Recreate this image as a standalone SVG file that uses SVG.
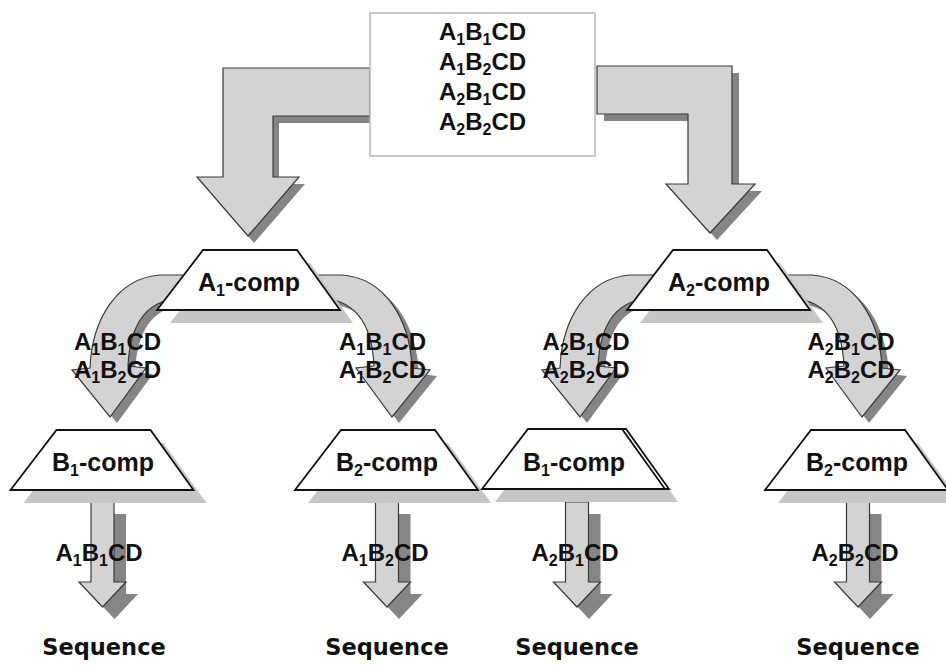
<svg xmlns="http://www.w3.org/2000/svg" width="946" height="665" viewBox="0 0 946 665">
<defs>
<style>
.arr{fill:#d3d3d3;stroke:#3a3a3a;stroke-width:1.2;stroke-linejoin:miter}
.ash{fill:#858585;stroke:none}
.tsh{fill:#c6c6c6;stroke:none}
.trap{fill:#fff;stroke:#111;stroke-width:1.8;stroke-linejoin:miter}
.box{fill:#fff;stroke:#b8b8b8;stroke-width:1.5}
.t{font-family:"Liberation Sans",Arial,sans-serif;font-weight:bold;font-size:24px;fill:#111;text-anchor:middle}
.n{font-family:"Liberation Sans",Arial,sans-serif;font-weight:bold;font-size:25px;fill:#111;text-anchor:middle}
.s{font-size:16px}
.seq{font-family:"DejaVu Sans",Verdana,sans-serif;font-weight:bold;font-size:22.5px;fill:#111;text-anchor:middle}
</style>
<path id="curveL" d="M 185,275 L 160,275 C 118,278 92,318 90,368 L 72,370 L 110,417 L 146,368 L 128,366 C 130,322 148,298 185,298 Z"/>
<path id="curveR" d="M 317,275 L 342,275 C 384,278 410,318 412,368 L 430,370 L 392,417 L 356,368 L 374,366 C 372,322 354,298 317,298 Z"/>
<path id="small" d="M -11.5,502 L 11.5,502 L 11.5,582 L 23.5,582 L 0,607 L -23.5,582 L -11.5,582 Z"/>
<polygon id="trapA" points="203,250 297,250 340,310 157,310"/>
</defs>
<rect width="946" height="665" fill="#fff"/>

<g id="connectors">
  <g id="edge-top-a1">
    <path class="ash" transform="translate(6,7)" d="M 370,68 L 223,68 L 223,177 L 197,177 L 248,236 L 299,177 L 273,177 L 273,116 L 370,116 Z"/>
    <path class="arr" d="M 370,68 L 223,68 L 223,177 L 197,177 L 248,236 L 299,177 L 273,177 L 273,116 L 370,116 Z"/>
  </g>
  <g id="edge-top-a2">
    <path class="ash" transform="translate(7,7)" d="M 597,66 L 732,66 L 732,184 L 755,184 L 710,233 L 666,184 L 688,184 L 688,114 L 597,114 Z"/>
    <path class="arr" d="M 597,66 L 732,66 L 732,184 L 755,184 L 710,233 L 666,184 L 688,184 L 688,114 L 597,114 Z"/>
  </g>
  <g id="edge-a1-b1">
    <use href="#curveL" class="ash" transform="translate(7,6)"/>
    <use href="#curveL" class="arr"/>
  </g>
  <g id="edge-a1-b2">
    <use href="#curveR" class="ash" transform="translate(7,6)"/>
    <use href="#curveR" class="arr"/>
  </g>
  <g id="edge-a2-b1">
    <use href="#curveL" class="ash" transform="translate(477,6)"/>
    <use href="#curveL" class="arr" transform="translate(470,0)"/>
  </g>
  <g id="edge-a2-b2">
    <use href="#curveR" class="ash" transform="translate(477,6)"/>
    <use href="#curveR" class="arr" transform="translate(470,0)"/>
  </g>
  <g id="edge-b1-seq1">
    <use href="#small" class="ash" transform="translate(114.5,12)"/>
    <use href="#small" class="arr" transform="translate(102.5,0)"/>
  </g>
  <g id="edge-b2-seq2">
    <use href="#small" class="ash" transform="translate(399,12)"/>
    <use href="#small" class="arr" transform="translate(387,0)"/>
  </g>
  <g id="edge-b3-seq3">
    <use href="#small" class="ash" transform="translate(589,12)"/>
    <use href="#small" class="arr" transform="translate(577,0)"/>
  </g>
  <g id="edge-b4-seq4">
    <use href="#small" class="ash" transform="translate(870,12)"/>
    <use href="#small" class="arr" transform="translate(858,0)"/>
  </g>
  <g id="edge-labels">
    <text class="t" x="117.5" y="350">A<tspan class="s" dy="5">1</tspan><tspan dy="-5">B</tspan><tspan class="s" dy="5">1</tspan><tspan dy="-5">CD</tspan></text>
    <text class="t" x="117.5" y="378">A<tspan class="s" dy="5">1</tspan><tspan dy="-5">B</tspan><tspan class="s" dy="5">2</tspan><tspan dy="-5">CD</tspan></text>
    <text class="t" x="382.5" y="350">A<tspan class="s" dy="5">1</tspan><tspan dy="-5">B</tspan><tspan class="s" dy="5">1</tspan><tspan dy="-5">CD</tspan></text>
    <text class="t" x="382.5" y="378">A<tspan class="s" dy="5">1</tspan><tspan dy="-5">B</tspan><tspan class="s" dy="5">2</tspan><tspan dy="-5">CD</tspan></text>
    <text class="t" x="586" y="350">A<tspan class="s" dy="5">2</tspan><tspan dy="-5">B</tspan><tspan class="s" dy="5">1</tspan><tspan dy="-5">CD</tspan></text>
    <text class="t" x="586" y="378">A<tspan class="s" dy="5">2</tspan><tspan dy="-5">B</tspan><tspan class="s" dy="5">2</tspan><tspan dy="-5">CD</tspan></text>
    <text class="t" x="851" y="350">A<tspan class="s" dy="5">2</tspan><tspan dy="-5">B</tspan><tspan class="s" dy="5">1</tspan><tspan dy="-5">CD</tspan></text>
    <text class="t" x="851" y="378">A<tspan class="s" dy="5">2</tspan><tspan dy="-5">B</tspan><tspan class="s" dy="5">2</tspan><tspan dy="-5">CD</tspan></text>
    <text class="t" x="99" y="561">A<tspan class="s" dy="5">1</tspan><tspan dy="-5">B</tspan><tspan class="s" dy="5">1</tspan><tspan dy="-5">CD</tspan></text>
    <text class="t" x="385" y="561">A<tspan class="s" dy="5">1</tspan><tspan dy="-5">B</tspan><tspan class="s" dy="5">2</tspan><tspan dy="-5">CD</tspan></text>
    <text class="t" x="575" y="561">A<tspan class="s" dy="5">2</tspan><tspan dy="-5">B</tspan><tspan class="s" dy="5">1</tspan><tspan dy="-5">CD</tspan></text>
    <text class="t" x="855" y="561">A<tspan class="s" dy="5">2</tspan><tspan dy="-5">B</tspan><tspan class="s" dy="5">2</tspan><tspan dy="-5">CD</tspan></text>
  </g>
</g>

<g id="node-top">
  <rect class="box" x="370" y="13" width="225" height="143"/>
  <text class="t" x="482.5" y="40">A<tspan class="s" dy="5">1</tspan><tspan dy="-5">B</tspan><tspan class="s" dy="5">1</tspan><tspan dy="-5">CD</tspan></text>
  <text class="t" x="482.5" y="70">A<tspan class="s" dy="5">1</tspan><tspan dy="-5">B</tspan><tspan class="s" dy="5">2</tspan><tspan dy="-5">CD</tspan></text>
  <text class="t" x="482.5" y="100">A<tspan class="s" dy="5">2</tspan><tspan dy="-5">B</tspan><tspan class="s" dy="5">1</tspan><tspan dy="-5">CD</tspan></text>
  <text class="t" x="482.5" y="130">A<tspan class="s" dy="5">2</tspan><tspan dy="-5">B</tspan><tspan class="s" dy="5">2</tspan><tspan dy="-5">CD</tspan></text>
</g>

<g id="node-a1">
  <use href="#trapA" class="tsh" transform="translate(13,13)"/>
  <use href="#trapA" class="trap"/>
  <text class="n" x="249" y="291">A<tspan class="s" dy="5">1</tspan><tspan dy="-5">-comp</tspan></text>
</g>
<g id="node-a2">
  <use href="#trapA" class="tsh" transform="translate(483,13)"/>
  <use href="#trapA" class="trap" transform="translate(470,0)"/>
  <text class="n" x="719" y="291">A<tspan class="s" dy="5">2</tspan><tspan dy="-5">-comp</tspan></text>
</g>

<g id="node-b1-left">
  <use href="#trapA" class="tsh" transform="translate(-133.5,193)"/>
  <use href="#trapA" class="trap" transform="translate(-146.5,180)"/>
  <text class="n" x="103" y="471">B<tspan class="s" dy="5">1</tspan><tspan dy="-5">-comp</tspan></text>
</g>
<g id="node-b2-left">
  <use href="#trapA" class="tsh" transform="translate(151,193)"/>
  <use href="#trapA" class="trap" transform="translate(138,180)"/>
  <text class="n" x="387" y="471">B<tspan class="s" dy="5">2</tspan><tspan dy="-5">-comp</tspan></text>
</g>
<g id="node-b1-right">
  <use href="#trapA" class="tsh" transform="translate(338,192)"/>
  <use href="#trapA" class="trap" transform="translate(329,179)"/>
  <use href="#trapA" class="trap" transform="translate(325,179)"/>
  <text class="n" x="574" y="471">B<tspan class="s" dy="5">1</tspan><tspan dy="-5">-comp</tspan></text>
</g>
<g id="node-b2-right">
  <use href="#trapA" class="tsh" transform="translate(621,193)"/>
  <use href="#trapA" class="trap" transform="translate(608,180)"/>
  <text class="n" x="857" y="471">B<tspan class="s" dy="5">2</tspan><tspan dy="-5">-comp</tspan></text>
</g>

<g id="node-seq1"><text class="seq" x="104" y="655">Sequence</text></g>
<g id="node-seq2"><text class="seq" x="387" y="655">Sequence</text></g>
<g id="node-seq3"><text class="seq" x="577" y="655">Sequence</text></g>
<g id="node-seq4"><text class="seq" x="858" y="655">Sequence</text></g>
</svg>
